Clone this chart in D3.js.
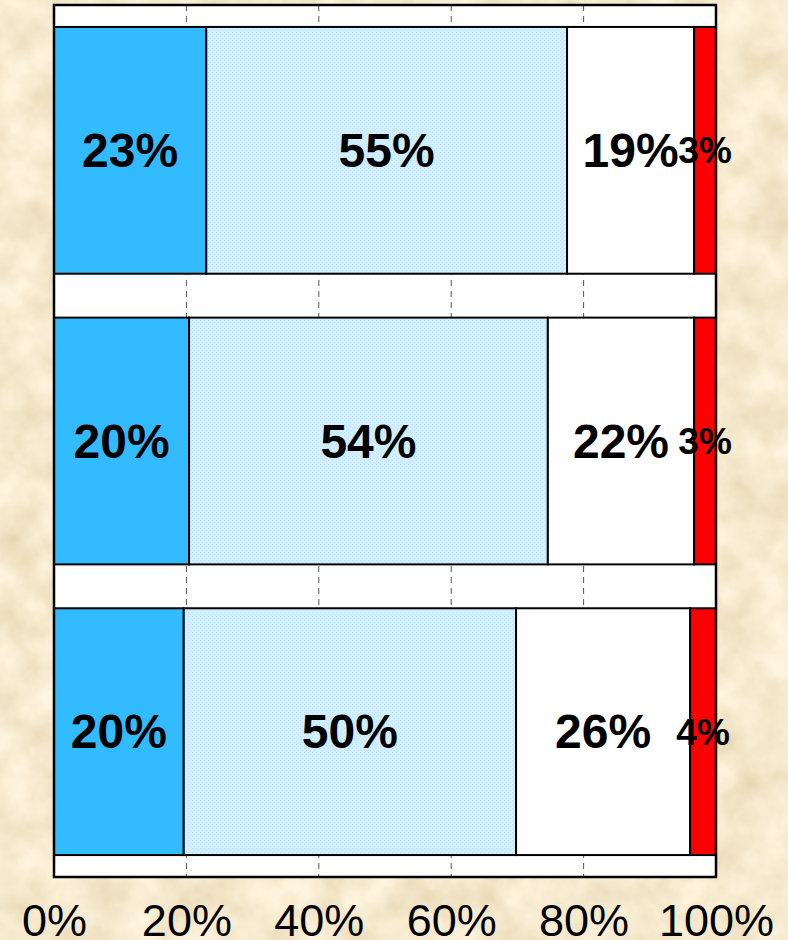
<!DOCTYPE html>
<html>
<head>
<meta charset="utf-8">
<script src="https://cdn.jsdelivr.net/npm/d3@7"></script>
<style>
html,body{margin:0;padding:0;background:#E6D0A4;}
svg{display:block;}
</style>
</head>
<body>
<div id="chart"></div>
<script>
// ---- data ----
const categories = ["Row 1", "Row 2", "Row 3"];
const seriesNames = ["A", "B", "C", "D"];
const seriesA = [23.0, 20.4, 19.6];
const seriesB = [54.5, 54.2, 50.2];
const seriesC = [19.2, 22.1, 26.3];
const seriesD = [3.3, 3.3, 3.9];
const tickValues = [0, 20, 40, 60, 80, 100];
const tickLabels = ["0%", "20%", "40%", "60%", "80%", "100%"];

const W = 788, H = 940;
const plot = {left: 54, right: 716, top: 5, bottom: 877};

const svg = d3.select("#chart").append("svg").attr("width", W).attr("height", H);
const defs = svg.append("defs");

// parchment texture
const f = defs.append("filter").attr("id", "parch").attr("x", 0).attr("y", 0).attr("width", "100%").attr("height", "100%");
f.append("feTurbulence").attr("type", "fractalNoise").attr("baseFrequency", "0.025").attr("numOctaves", 4).attr("seed", 7).attr("result", "noise");
f.append("feColorMatrix").attr("in", "noise").attr("type", "matrix")
  .attr("values", "0.28 0 0 0 0.78  0.34 0 0 0 0.65  0.42 0 0 0 0.41  0 0 0 0 1");
svg.append("rect").attr("width", W).attr("height", H).attr("fill", "#E6D0A4").attr("filter", "url(#parch)");

// light blue dotted pattern
const pat = defs.append("pattern").attr("id", "dots").attr("patternUnits", "userSpaceOnUse").attr("width", 4).attr("height", 4);
pat.append("rect").attr("width", 4).attr("height", 4).attr("fill", "#D2EFFF");
pat.append("rect").attr("x", 0).attr("y", 0).attr("width", 1).attr("height", 1).attr("fill", "#BFE4FA");
pat.append("rect").attr("x", 2).attr("y", 2).attr("width", 1).attr("height", 1).attr("fill", "#BFE4FA");

const x = d3.scaleLinear().domain([0, 100]).range([plot.left, plot.right]);
const y = d3.scaleBand().domain(categories).range([plot.top, plot.bottom]).paddingInner(0.151).paddingOuter(0.0755);

// plot background
svg.append("rect").attr("x", plot.left).attr("y", plot.top)
  .attr("width", plot.right - plot.left).attr("height", plot.bottom - plot.top).attr("fill", "#ffffff");

// gridlines
svg.append("g").selectAll("line").data(tickValues.filter(v => v > 0 && v < 100)).join("line")
  .attr("x1", d => x(d)).attr("x2", d => x(d))
  .attr("y1", plot.top).attr("y2", plot.bottom)
  .attr("stroke", "#555").attr("stroke-width", 1).attr("stroke-dasharray", "6,5");

// stack
const table = categories.map((c, i) => ({cat: c, A: seriesA[i], B: seriesB[i], C: seriesC[i], D: seriesD[i]}));
const stacked = d3.stack().keys(seriesNames)(table);
const fills = {A: "#33BBFF", B: "url(#dots)", C: "#FFFFFF", D: "#FF0000"};

const layers = svg.append("g").selectAll("g").data(stacked).join("g");
layers.selectAll("rect").data(d => d.map(p => ({key: d.key, p}))).join("rect")
  .attr("x", d => x(d.p[0]))
  .attr("y", d => y(d.p.data.cat))
  .attr("width", d => x(d.p[1]) - x(d.p[0]))
  .attr("height", y.bandwidth())
  .attr("fill", d => fills[d.key])
  .attr("stroke", "#000").attr("stroke-width", 2);

// labels
const labels = svg.append("g").attr("font-family", "Liberation Sans, Arial, sans-serif").attr("font-weight", "bold").attr("fill", "#000");
stacked.forEach(layer => {
  layer.forEach(p => {
    const v = p[1] - p[0];
    labels.append("text")
      .attr("x", (x(p[0]) + x(p[1])) / 2)
      .attr("y", y(p.data.cat) + y.bandwidth() / 2)
      .attr("dy", "0.35em")
      .attr("text-anchor", "middle")
      .attr("font-size", layer.key === "D" ? 37 : 48)
      .text(Math.round(v) + "%");
  });
});

// plot border
svg.append("rect").attr("x", plot.left).attr("y", plot.top)
  .attr("width", plot.right - plot.left).attr("height", plot.bottom - plot.top)
  .attr("fill", "none").attr("stroke", "#000").attr("stroke-width", 2.5);

// x axis
const axis = d3.axisBottom(x).tickValues(tickValues).tickFormat((d, i) => tickLabels[i]).tickSize(0).tickPadding(0);
const ax = svg.append("g").attr("transform", `translate(0,${plot.bottom})`).call(axis);
ax.select(".domain").remove();
ax.selectAll("text").attr("font-family", "Liberation Sans, Arial, sans-serif").attr("font-size", 45)
  .attr("fill", "#000").attr("dy", null).attr("y", 59);
</script>
</body>
</html>
